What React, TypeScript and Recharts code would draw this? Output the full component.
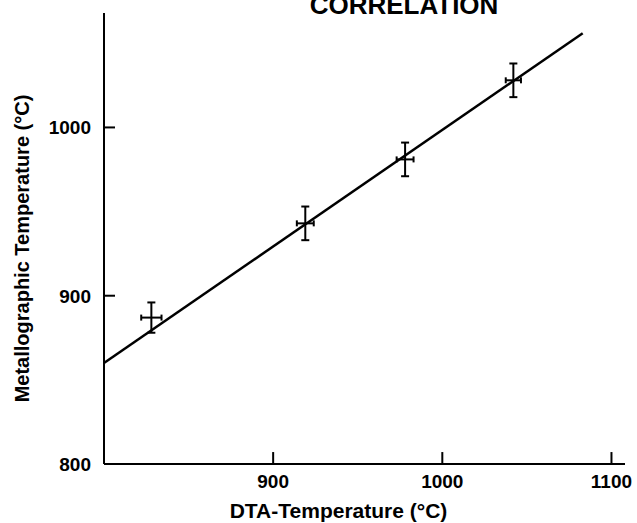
import { ErrorBar, ReferenceLine, Scatter, ScatterChart, XAxis, YAxis } from "recharts";

const FONT = "Arial, 'Liberation Sans', sans-serif";
const INK = "#000";

// measured points (DTA vs metallographic), with error half-widths
const dtaTemps = [828, 919, 978, 1042];
const metTemps = [887, 943, 981, 1028];
const dtaErrors = [6, 5, 5, 4.5];
const metErrors = [9, 10, 10, 10];

// fitted correlation line end points
const fitDta = [800, 1083];
const fitMet = [860, 1056];

const xTicks = [900, 1000, 1100];
const yTicks = [800, 900, 1000];

const X_MIN = 800;
const Y_MIN = 800;
// inward tick lengths, in axis units (~11-12px)
const Y_TICK_LEN = 6.5;
const X_TICK_LEN = 7.1;

const points = dtaTemps.map((x, i) => ({
  x,
  y: metTemps[i],
  ex: dtaErrors[i],
  ey: metErrors[i],
}));
const fitLine = fitDta.map((x, i) => ({ x, y: fitMet[i] }));

function XTick({ x, y, payload }: any) {
  return (
    <text
      x={x}
      y={y}
      dy="0.71em"
      textAnchor="middle"
      fontFamily={FONT}
      fontWeight="bold"
      fontSize={19}
      fill={INK}
    >
      {payload.value}
    </text>
  );
}

function YTick({ x, y, payload }: any) {
  return (
    <text
      x={x}
      y={y}
      dy="0.36em"
      textAnchor="end"
      fontFamily={FONT}
      fontWeight="bold"
      fontSize={19}
      fill={INK}
    >
      {payload.value}
    </text>
  );
}

function XLabel({ viewBox }: any) {
  const { x, width } = viewBox;
  return (
    <text
      x={x + width / 2 - 26}
      y={518}
      textAnchor="middle"
      fontFamily={FONT}
      fontWeight="bold"
      fontSize={21}
      fill={INK}
    >
      DTA-Temperature (°C)
    </text>
  );
}

function YLabel({ viewBox }: any) {
  const { x, y, height } = viewBox;
  const cx = x + 22;
  const cy = y + height / 2 + 10;
  return (
    <text
      x={cx}
      y={cy}
      dy="0.36em"
      transform={`rotate(-90 ${cx} ${cy})`}
      textAnchor="middle"
      fontFamily={FONT}
      fontWeight="bold"
      fontSize={20}
      fill={INK}
    >
      Metallographic Temperature (°C)
    </text>
  );
}

const noDot = () => <g />;

export default function App() {
  return (
    <div style={{ position: "absolute", left: 0, top: 0, width: 637, height: 523, background: "#fff" }}>
      <svg
        width={637}
        height={30}
        style={{ position: "absolute", left: 0, top: 0, pointerEvents: "none" }}
      >
        <text
          x={404}
          y={14}
          textAnchor="middle"
          fontFamily={FONT}
          fontWeight="bold"
          fontSize={26}
          fill={INK}
        >
          CORRELATION
        </text>
      </svg>
      <ScatterChart width={637} height={523} margin={{ top: 13, right: 12, bottom: 0, left: 0 }}>
        <XAxis
          type="number"
          dataKey="x"
          domain={[800, 1108]}
          allowDataOverflow
          ticks={xTicks}
          height={59}
          tickSize={0}
          tickMargin={11}
          tickLine={false}
          axisLine={{ stroke: INK, strokeWidth: 2 }}
          tick={<XTick />}
          label={<XLabel />}
        />
        <YAxis
          type="number"
          dataKey="y"
          domain={[800, 1068]}
          allowDataOverflow
          ticks={yTicks}
          width={104}
          tickSize={0}
          tickMargin={13}
          tickLine={false}
          axisLine={{ stroke: INK, strokeWidth: 2 }}
          tick={<YTick />}
          label={<YLabel />}
        />
        {xTicks.map((t) => (
          <ReferenceLine
            key={`xt${t}`}
            segment={[
              { x: t, y: Y_MIN },
              { x: t, y: Y_MIN + X_TICK_LEN },
            ]}
            stroke={INK}
            strokeWidth={2}
            ifOverflow="visible"
          />
        ))}
        {yTicks
          .filter((t) => t > Y_MIN)
          .map((t) => (
            <ReferenceLine
              key={`yt${t}`}
              segment={[
                { x: X_MIN, y: t },
                { x: X_MIN + Y_TICK_LEN, y: t },
              ]}
              stroke={INK}
              strokeWidth={2}
              ifOverflow="visible"
            />
          ))}
        <Scatter
          data={fitLine}
          line={{ stroke: INK, strokeWidth: 2.5 }}
          shape={noDot}
          isAnimationActive={false}
        />
        <Scatter data={points} shape={noDot} isAnimationActive={false}>
          <ErrorBar dataKey="ey" direction="y" width={4} stroke={INK} strokeWidth={2} isAnimationActive={false} />
          <ErrorBar dataKey="ex" direction="x" width={3} stroke={INK} strokeWidth={2} isAnimationActive={false} />
        </Scatter>
      </ScatterChart>
    </div>
  );
}
